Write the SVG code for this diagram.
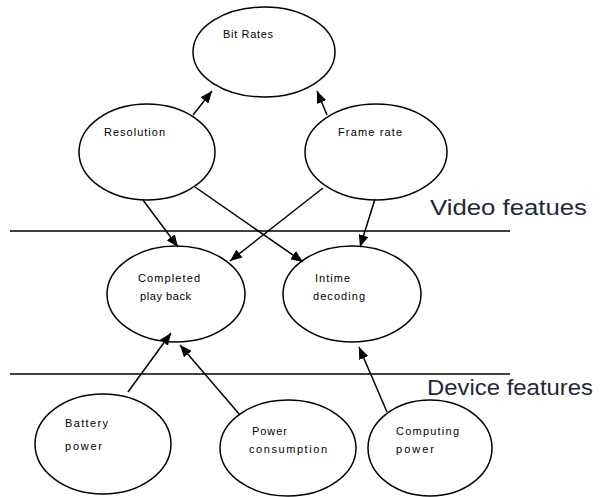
<svg xmlns="http://www.w3.org/2000/svg" width="605" height="497" viewBox="0 0 605 497">
<defs>
<marker id="arr" markerWidth="13" markerHeight="10" refX="12" refY="5" orient="auto" markerUnits="userSpaceOnUse">
<path d="M0,0 L12,5 L0,10 Z" fill="#000"/>
</marker>
<style>
.node ellipse{fill:#fff;stroke:#000;stroke-width:1.5}
.node text{font-family:"Liberation Sans",Arial,sans-serif;font-size:11px;fill:#000}
.edge line{stroke:#000;stroke-width:1.5;marker-end:url(#arr)}
.sep{stroke:#000;stroke-width:1.5}
.lbl{font-family:"Liberation Sans",Arial,sans-serif;font-size:22px;fill:#1e2a3a}
</style>
</defs>
<rect width="605" height="497" fill="#fff"/>
<line class="sep" x1="10" y1="231" x2="510" y2="231"/>
<line class="sep" x1="10" y1="374" x2="510" y2="374"/>
<text class="lbl" x="430" y="215" textLength="157" lengthAdjust="spacingAndGlyphs">Video featues</text>
<text class="lbl" x="427" y="395" textLength="166" lengthAdjust="spacingAndGlyphs">Device features</text>
<g id="bitrates" class="node"><ellipse cx="264" cy="52" rx="71" ry="45"/><text x="223" y="38" textLength="50">Bit Rates</text></g>
<g id="resolution" class="node"><ellipse cx="147" cy="152" rx="68" ry="48"/><text x="104" y="136" textLength="61">Resolution</text></g>
<g id="framerate" class="node"><ellipse cx="376" cy="152" rx="71" ry="48"/><text x="338" y="136" textLength="64">Frame rate</text></g>
<g id="completed" class="node"><ellipse cx="176" cy="294" rx="69" ry="48"/><text x="138" y="282" textLength="62">Completed</text><text x="140" y="300" textLength="51">play back</text></g>
<g id="intime" class="node"><ellipse cx="352" cy="294" rx="69" ry="48"/><text x="315" y="282" textLength="35">Intime</text><text x="313" y="300" textLength="52">decoding</text></g>
<g id="battery" class="node"><ellipse cx="103" cy="444" rx="68" ry="50"/><text x="65" y="427" textLength="43">Battery</text><text x="65" y="450" textLength="37">power</text></g>
<g id="consumption" class="node"><ellipse cx="288" cy="448" rx="68" ry="48"/><text x="252" y="435" textLength="35">Power</text><text x="249" y="453" textLength="78">consumption</text></g>
<g id="computing" class="node"><ellipse cx="430" cy="448" rx="62" ry="48"/><text x="396" y="435" textLength="63">Computing</text><text x="396" y="453" textLength="38">power</text></g>
<g id="connectors" class="edge">
<line x1="193" y1="115" x2="212" y2="91"/>
<line x1="327" y1="115" x2="317" y2="91"/>
<line x1="143" y1="200" x2="178" y2="247"/>
<line x1="195" y1="187" x2="303" y2="262"/>
<line x1="323" y1="188" x2="230" y2="261"/>
<line x1="375" y1="199" x2="360" y2="247"/>
<line x1="128" y1="392" x2="171" y2="333"/>
<line x1="240" y1="415" x2="180" y2="345"/>
<line x1="387" y1="412" x2="359" y2="347"/>
</g>
</svg>
